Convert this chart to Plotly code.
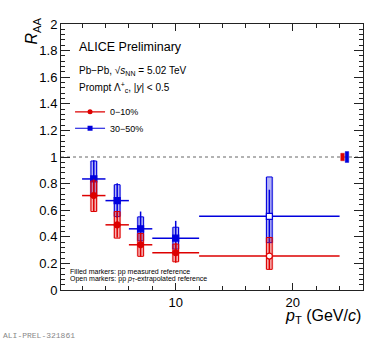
"""ALICE prompt Lambda_c+ R_AA in Pb-Pb at 5.02 TeV, two centrality classes."""
import plotly.graph_objects as go

# --- data --------------------------------------------------------------------
pt = [3, 5, 7, 10, 18]
pt_lo = [2, 4, 6, 8, 12]
pt_hi = [4, 6, 8, 12, 24]

raa_010 = [0.71, 0.49, 0.34, 0.28, 0.255]
stat_010 = [0.12, 0.095, 0.09, 0.075, 0.10]
sys_up_010 = [0.11, 0.10, 0.085, 0.065, 0.14]
sys_dn_010 = [0.12, 0.10, 0.087, 0.068, 0.10]

raa_3050 = [0.835, 0.672, 0.46, 0.39, 0.554]
stat_3050 = [0.14, 0.13, 0.13, 0.13, 0.20]
sys_up_3050 = [0.135, 0.12, 0.09, 0.082, 0.296]
sys_dn_3050 = [0.135, 0.12, 0.09, 0.082, 0.198]

# last bin uses the pT-extrapolated pp reference -> open marker
open_marker = [False, False, False, False, True]

norm_unc = {"0-10%": 0.028, "30-50%": 0.041}

x_ticks = [10, 20]
y_ticks = [0, 0.2, 0.4, 0.6, 0.8, 1, 1.2, 1.4, 1.6, 1.8, 2]

RED = "#dd0000"
BLUE = "#0000dd"
FONT = "Liberation Sans, Arial, sans-serif"


def rects(xc, yc, up, dn, half):
    xs, ys = [], []
    for x, y, u, d in zip(xc, yc, up, dn):
        xs += [x - half, x + half, x + half, x - half, x - half, None]
        ys += [y - d, y - d, y + u, y + u, y - d, None]
    return xs, ys


def add_series(fig, name, raa, stat, sup, sdn, color, fill, symbol, legend):
    fx, fy = rects(pt, raa, sup, sdn, 0.33)
    fig.add_trace(go.Scatter(x=fx, y=fy, mode="lines", fill="toself", fillcolor=fill,
                             line=dict(width=0), hoverinfo="skip", showlegend=False))
    ox, oy = rects(pt, raa, sup, sdn, 0.24)
    fig.add_trace(go.Scatter(x=ox, y=oy, mode="lines", line=dict(color=color, width=1),
                             hoverinfo="skip", showlegend=False))
    fig.add_trace(go.Scatter(
        x=pt, y=raa, mode="markers", name=name, showlegend=False,
        error_x=dict(type="data", symmetric=False,
                     array=[h - x for h, x in zip(pt_hi, pt)],
                     arrayminus=[x - l for l, x in zip(pt_lo, pt)],
                     color=color, thickness=1.5, width=0),
        error_y=dict(type="data", array=stat, color=color, thickness=1.5, width=0),
        marker=dict(symbol=symbol, size=6, color=["white" if o else color for o in open_marker],
                    line=dict(color=color, width=1.2)),
    ))
    # legend entry (each series gets its own legend box so the rows sit tight)
    fig.add_trace(go.Scatter(x=[None], y=[None], mode="lines+markers", name=name,
                             legend=legend, line=dict(color=color, width=1.2),
                             marker=dict(symbol=symbol, size=5, color=color)))


fig = go.Figure()
add_series(fig, "30\u221250%", raa_3050, stat_3050, sup=sys_up_3050, sdn=sys_dn_3050,
           color=BLUE, fill="rgba(40,40,230,0.35)", symbol="square", legend="legend2")
add_series(fig, "0\u221210%", raa_010, stat_010, sup=sys_up_010, sdn=sys_dn_010,
           color=RED, fill="rgba(230,30,30,0.35)", symbol="circle", legend="legend")

# global normalisation uncertainties at R_AA = 1
for (key, unc), xc, col in zip(norm_unc.items(), [24.25, 24.63], [RED, BLUE]):
    bx, by = rects([xc], [1], [unc], [unc], 0.15)
    fig.add_trace(go.Scatter(x=bx, y=by, mode="lines", fill="toself", fillcolor=col,
                             line=dict(color=col, width=0.5), hoverinfo="skip",
                             showlegend=False))

fig.add_hline(y=1, line=dict(color="#666666", width=1, dash="dot"), layer="below")

axis_common = dict(showline=True, linecolor="#222222", linewidth=1, mirror="allticks",
                   ticks="inside", tickcolor="#222222", showgrid=False, zeroline=False,
                   tickfont=dict(family=FONT, size=13, color="black"))
fig.update_xaxes(range=[0.2, 26], tickvals=x_ticks, ticklen=7,
                 minor=dict(dtick=2, tick0=0, ticks="inside", ticklen=4, tickcolor="#222222"),
                 **axis_common)
fig.update_yaxes(range=[0, 2], tickvals=y_ticks, ticklen=9,
                 minor=dict(dtick=0.04, tick0=0, ticks="inside", ticklen=4, tickcolor="#222222"),
                 **axis_common)

ann = [
    dict(text="ALICE Preliminary", x=0.054, y=0.915, font=dict(size=12.5)),
    dict(text="Pb\u2212Pb, \u221a<i>s</i><sub>NN</sub> = 5.02 TeV", x=0.054, y=0.825,
         font=dict(size=10)),
    dict(text="Prompt \u039b<sup>+</sup><sub>c</sub>, |<i>y</i>| < 0.5", x=0.054, y=0.762,
         font=dict(size=10)),
    dict(text="Filled markers: pp measured reference", x=0.022, y=0.068, font=dict(size=7)),
    dict(text="Open markers: pp <i>p</i><sub>T</sub>-extrapolated reference", x=0.022,
         y=0.04, font=dict(size=7)),
    dict(text="<i>p</i><sub>T</sub> (GeV/<i>c</i>)", x=1.0, xanchor="right", y=-0.098,
         font=dict(size=16)),
    dict(text="<i>R</i><sub>AA</sub>", x=-0.093, xanchor="center", y=0.975,
         textangle=-90, font=dict(size=16)),
    dict(text="ALI-PREL-321861", x=-0.2, y=-0.172,
         font=dict(size=8, family="Liberation Mono, monospace", color="#888888")),
]
for a in ann:
    a.setdefault("xanchor", "left")
    a.setdefault("yanchor", "middle")
    a["font"].setdefault("family", FONT)
    a["font"].setdefault("color", "black")
    fig.add_annotation(xref="paper", yref="paper", showarrow=False, **a)

leg = dict(x=0.03, xanchor="left", yanchor="middle", bgcolor="rgba(0,0,0,0)",
           font=dict(size=9, family=FONT, color="black"), itemwidth=30)
fig.update_layout(
    width=390, height=342,
    margin=dict(l=61, r=27, t=24, b=52),
    paper_bgcolor="white", plot_bgcolor="white",
    font=dict(family=FONT, color="black"),
    legend=dict(y=0.670, **leg),
    legend2=dict(y=0.608, **leg),
)

fig.write_html("out.html", config={"displayModeBar": False},
               post_script="document.body.style.margin='0';")
